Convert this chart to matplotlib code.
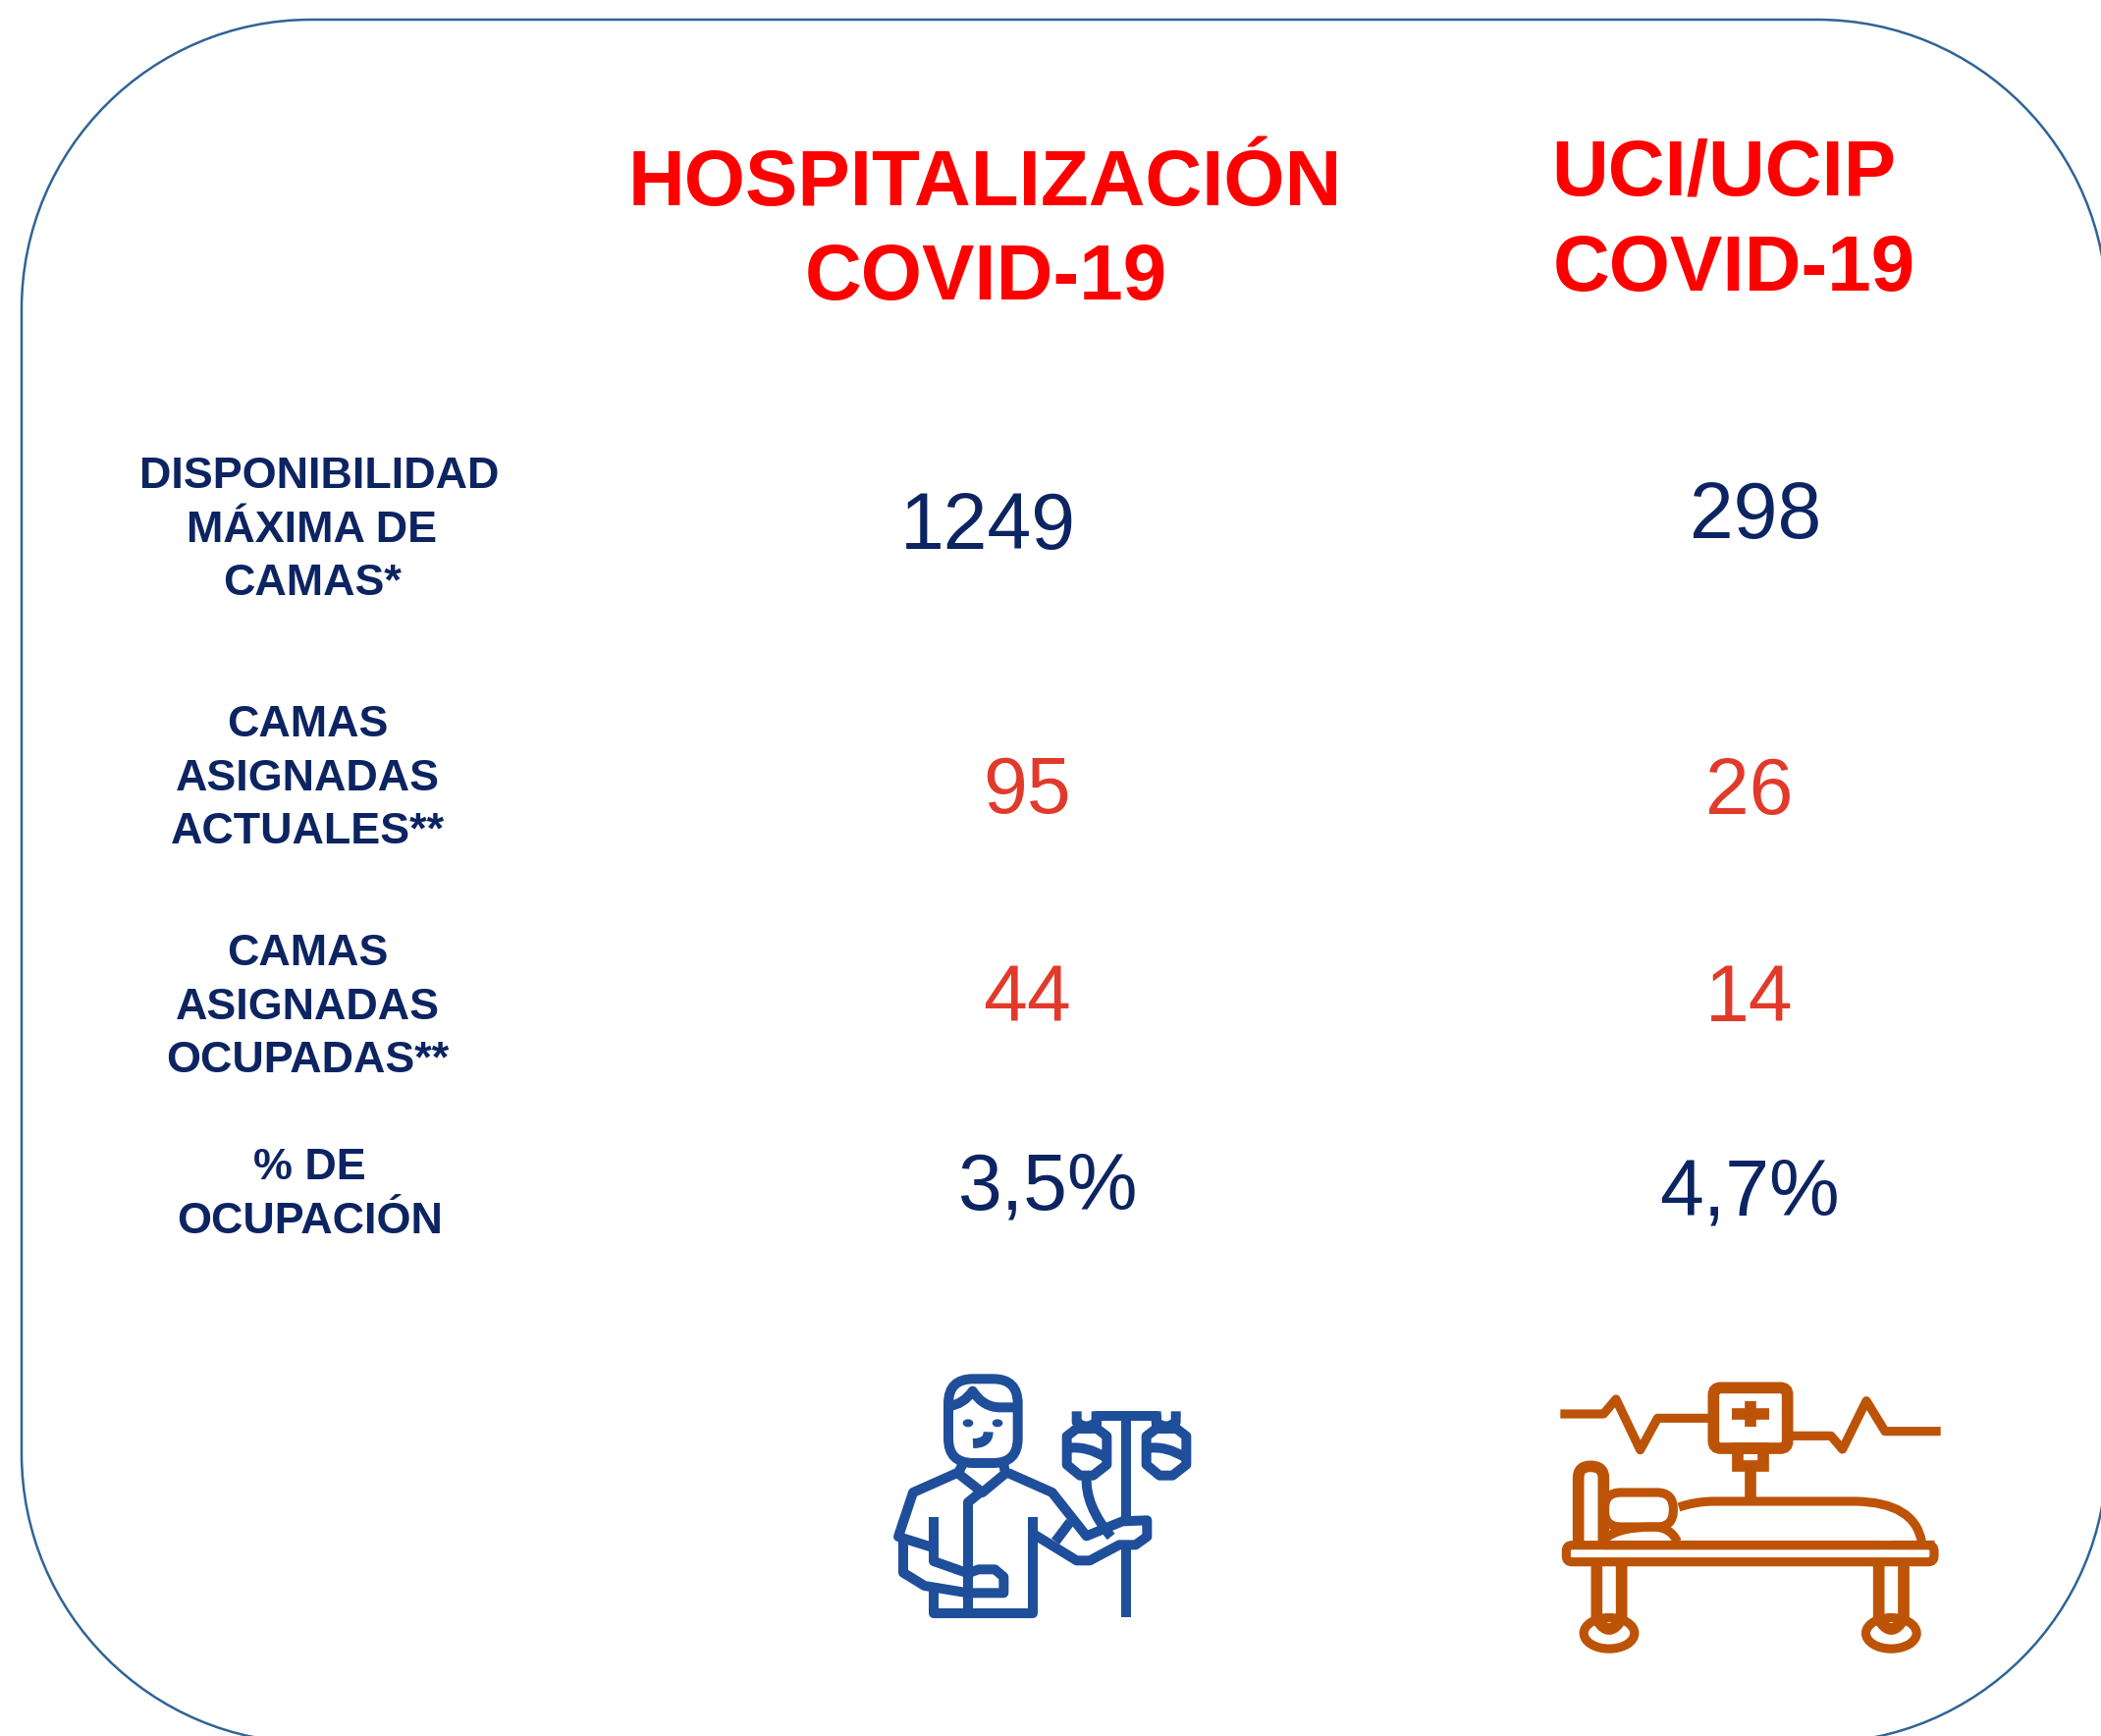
import matplotlib
matplotlib.use('Agg')
import matplotlib.pyplot as plt
from matplotlib.patches import FancyBboxPatch, Ellipse, Rectangle, PathPatch
from matplotlib.path import Path

plt.rcParams['font.family'] = ['Liberation Sans', 'DejaVu Sans']

# Table content
row_labels = [
    ['DISPONIBILIDAD', 'MÁXIMA DE', 'CAMAS*'],
    ['CAMAS', 'ASIGNADAS', 'ACTUALES**'],
    ['CAMAS', 'ASIGNADAS', 'OCUPADAS**'],
    ['% DE', 'OCUPACIÓN'],
]
hosp_values = ['1249', '95', '44', '3,5%']
uci_values = ['298', '26', '14', '4,7%']
value_colors = ['#0c2461', '#e23a2a', '#e23a2a', '#0c2461']

# Layout, in pixels of the 2140x1768 picture
label_x = [[325, 318, 318], [313, 313, 313], [313, 313, 313], [315, 316]]
label_y = [[497, 552, 606], [750, 805, 859], [983, 1038, 1092], [1201, 1256]]
hosp_x = [1006, 1046, 1046, 1068]
hosp_y = [559, 828, 1040, 1232]
uci_x = [1788, 1782, 1782, 1782]
uci_y = [548, 829, 1040, 1237]

NAVY = '#0c2461'
BLUE = '#1f4e9b'
ORANGE = '#bd5307'

fig = plt.figure(figsize=(21.4, 17.68), dpi=100)
ax = fig.add_axes([0, 0, 1, 1])
ax.set_xlim(0, 2140)
ax.set_ylim(1768, 0)
ax.axis('off')

# frame runs off the right and bottom edges, corners are true quarter circles
x0, y0, x1, y1, r = 22, 20, 2146, 1775, 295
k = 0.5523 * r
frame_verts = [(x0 + r, y0), (x1 - r, y0),
               (x1 - r + k, y0), (x1, y0 + r - k), (x1, y0 + r), (x1, y1 - r),
               (x1, y1 - r + k), (x1 - r + k, y1), (x1 - r, y1), (x0 + r, y1),
               (x0 + r - k, y1), (x0, y1 - r + k), (x0, y1 - r), (x0, y0 + r),
               (x0, y0 + r - k), (x0 + r - k, y0), (x0 + r, y0)]
frame_codes = [Path.MOVETO, Path.LINETO]
for _ in range(3):
    frame_codes += [Path.CURVE4] * 3 + [Path.LINETO]
frame_codes += [Path.CURVE4] * 3
ax.add_patch(PathPatch(Path(frame_verts, frame_codes), fc='white', ec='#2f6496', lw=1.8))

# headers
ax.text(1003, 209, 'HOSPITALIZACIÓN', color='#fe0000', fontsize=57.6, fontweight='bold', ha='center', va='baseline')
ax.text(1004, 305, 'COVID-19', color='#fe0000', fontsize=57.6, fontweight='bold', ha='center', va='baseline')
ax.text(1580, 199, 'UCI/UCIP', color='#fe0000', fontsize=57.6, fontweight='bold', ha='left', va='baseline')
ax.text(1582, 296, 'COVID-19', color='#fe0000', fontsize=57.6, fontweight='bold', ha='left', va='baseline')

for lines, xs, ys in zip(row_labels, label_x, label_y):
    for line, x, y in zip(lines, xs, ys):
        ax.text(x, y, line, color=NAVY, fontsize=32.3, fontweight='bold', ha='center', va='baseline')

for i in range(len(hosp_values)):
    ax.text(hosp_x[i], hosp_y[i], hosp_values[i], color=value_colors[i], fontsize=58, ha='center', va='baseline')
    ax.text(uci_x[i], uci_y[i], uci_values[i], color=value_colors[i], fontsize=58, ha='center', va='baseline')


def icon_line(pts, ox, oy, color, lw, closed=False):
    # pts are (x, y) in a 3x zoom of the icon, 4-tuples add a quadratic segment
    verts, codes = [], []
    for p in pts:
        if len(p) == 4:
            verts += [(ox + p[0] / 3, oy + p[1] / 3), (ox + p[2] / 3, oy + p[3] / 3)]
            codes += [Path.CURVE3, Path.CURVE3]
        else:
            verts.append((ox + p[0] / 3, oy + p[1] / 3))
            codes.append(Path.MOVETO if not codes else Path.LINETO)
    if closed:
        verts.append(verts[0])
        codes.append(Path.CLOSEPOLY)
    ax.add_patch(PathPatch(Path(verts, codes), fc='none', ec=color, lw=lw, capstyle='butt', joinstyle='round'))


def icon_box(x0, y0, x1, y1, r, ox, oy, color, lw, fc='none'):
    ax.add_patch(FancyBboxPatch((ox + x0 / 3, oy + y0 / 3), (x1 - x0) / 3, (y1 - y0) / 3,
                                boxstyle=f'round,pad=0,rounding_size={r / 3}', fc=fc, ec=color, lw=lw))


# patient with drip
ox, oy = 880, 1370
lw = 7.2
icon_box(258, 103, 470, 360, 75, ox, oy, BLUE, lw)
icon_line([(258, 187), (305, 180, 332, 140), (365, 190, 415, 190), (470, 190)], ox, oy, BLUE, lw)
for ex in (318, 408):
    ax.add_patch(Ellipse((ox + ex / 3, oy + 238 / 3), 32 / 3, 24 / 3, fc=BLUE, ec='none'))
icon_line([(333, 300), (380, 300, 380, 265)], ox, oy, BLUE, lw)
icon_line([(305, 355), (288, 392), (362, 450), (432, 392), (425, 355)], ox, oy, BLUE, lw)
icon_line([(285, 390), (150, 450), (105, 585), (210, 618)], ox, oy, BLUE, lw)
icon_line([(440, 390), (575, 450), (680, 583), (790, 538), (865, 535), (865, 585), (830, 610),
           (780, 610), (690, 658), (650, 658), (515, 575)], ox, oy, BLUE, lw)
icon_line([(630, 540), (585, 600)], ox, oy, BLUE, lw)
icon_line([(213, 525), (213, 660), (318, 697), (350, 685), (400, 685), (427, 708), (427, 757),
           (318, 757), (185, 735), (120, 695), (120, 590)], ox, oy, BLUE, lw)
icon_line([(355, 450), (318, 480), (318, 820)], ox, oy, BLUE, lw)
icon_line([(213, 740), (213, 820), (515, 820), (515, 525)], ox, oy, BLUE, lw)
icon_line([(802, 215), (802, 530)], ox, oy, BLUE, lw)
icon_line([(802, 610), (802, 832)], ox, oy, BLUE, lw)
icon_line([(710, 245), (710, 215), (895, 215), (895, 245)], ox, oy, BLUE, lw)
for dx in (0, 243):
    icon_line([(650 + dx, 255), (712 + dx, 255), (742 + dx, 278), (742 + dx, 365), (700 + dx, 398),
               (660 + dx, 398), (620 + dx, 365), (620 + dx, 278)], ox, oy, BLUE, lw, closed=True)
    icon_line([(620 + dx, 315), (680 + dx, 305, 742 + dx, 345)], ox, oy, BLUE, lw)
    icon_line([(650 + dx, 202), (650 + dx, 235), (680 + dx, 260, 710 + dx, 235), (710 + dx, 202)], ox, oy, BLUE, lw)
icon_line([(680, 400), (675, 490, 755, 585)], ox, oy, BLUE, lw)

# bed with monitor
ox, oy = 1570, 1380
lw = 8.4
thin = 6.6
icon_line([(58, 180), (190, 180), (228, 135), (302, 290), (355, 193), (520, 193)], ox, oy, ORANGE, thin)
icon_line([(760, 247), (885, 247), (920, 288), (993, 140), (1050, 233), (1220, 233)], ox, oy, ORANGE, thin)
icon_box(526, 100, 752, 285, 22, ox, oy, ORANGE, lw)
icon_line([(582, 180), (695, 180)], ox, oy, ORANGE, lw)
icon_line([(638, 140), (638, 220)], ox, oy, ORANGE, lw)
ax.add_patch(Rectangle((ox + 600 / 3, oy + 285 / 3), 77 / 3, 55 / 3, fc='none', ec=ORANGE, lw=lw))
icon_line([(638, 340), (638, 447)], ox, oy, ORANGE, lw)
icon_line([(113, 580), (113, 375), (113, 340, 150, 340), (190, 340, 190, 375), (190, 580)], ox, oy, ORANGE, lw)
icon_line([(420, 465), (470, 447, 530, 447), (960, 447), (1140, 450, 1162, 570)], ox, oy, ORANGE, thin)
icon_box(193, 420, 403, 525, 50, ox, oy, ORANGE, thin)
icon_line([(195, 560), (240, 525, 340, 525), (395, 525, 415, 570)], ox, oy, ORANGE, thin)
icon_line([(190, 578), (1032, 578)], ox, oy, ORANGE, thin)
icon_line([(1068, 578), (1200, 578)], ox, oy, ORANGE, thin)
icon_box(76, 581, 1200, 632, 18, ox, oy, ORANGE, thin)
for cx in (207, 1069):
    ax.add_patch(Ellipse((ox + cx / 3, oy + 850 / 3), 155 / 3, 95 / 3, fc='white', ec=ORANGE, lw=thin))
    icon_line([(cx - 38, 640), (cx - 38, 805), (cx, 870, cx + 38, 805), (cx + 38, 640)], ox, oy, ORANGE, lw)

fig.savefig('out.png', dpi=100, facecolor='white')
